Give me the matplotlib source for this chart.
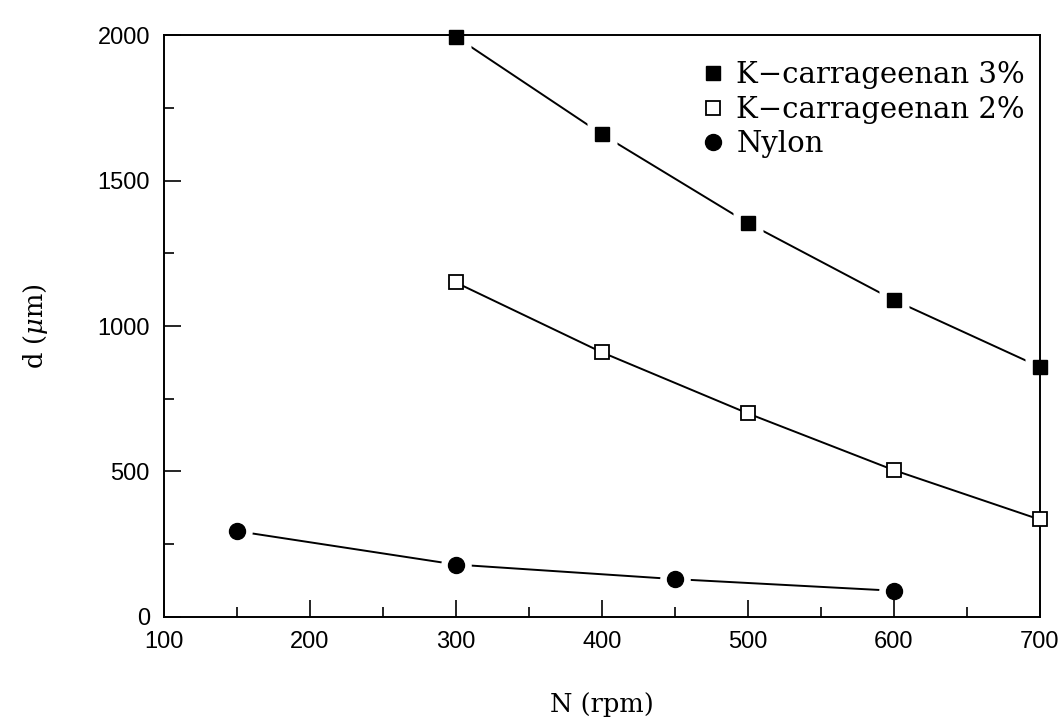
import matplotlib
matplotlib.use("Agg")
import matplotlib.pyplot as plt
from matplotlib.lines import Line2D
from matplotlib.ticker import MultipleLocator

# data
rpm_k3 = [300, 400, 500, 600, 700]
d_k3 = [1995, 1660, 1355, 1090, 860]

rpm_k2 = [300, 400, 500, 600, 700]
d_k2 = [1150, 910, 700, 505, 335]

rpm_nylon = [150, 300, 450, 600]
d_nylon = [295, 180, 130, 90]

labels = ["K\u2212carrageenan 3%", "K\u2212carrageenan 2%", "Nylon"]

plt.rcParams["mathtext.fontset"] = "dejavuserif"

fig = plt.figure(figsize=(10.64, 7.19), dpi=100)
ax = fig.add_axes([0.154, 0.142, 0.823, 0.809])

# K-carrageenan 3%: line with gaps round the markers
ax.plot(rpm_k3, d_k3, color="black", lw=1.4, zorder=1)
ax.plot(rpm_k3, d_k3, ls="none", marker="s", ms=22, mfc="white", mec="none",
        zorder=1.5, clip_on=False)
ax.plot(rpm_k3, d_k3, ls="none", marker="s", ms=10.5, mfc="black", mec="black",
        zorder=4, clip_on=False)

# K-carrageenan 2%: line touches the open squares
ax.plot(rpm_k2, d_k2, color="black", lw=1.4, zorder=1)
ax.plot(rpm_k2, d_k2, ls="none", marker="s", ms=10.5, mfc="white", mec="black",
        mew=1.3, zorder=4, clip_on=False)

# Nylon
ax.plot(rpm_nylon, d_nylon, color="black", lw=1.4, zorder=1)
ax.plot(rpm_nylon, d_nylon, ls="none", marker="o", ms=22, mfc="white", mec="none",
        zorder=1.5, clip_on=False)
ax.plot(rpm_nylon, d_nylon, ls="none", marker="o", ms=11.5, mfc="black", mec="black",
        zorder=4, clip_on=False)

ax.set_xlim(100, 700)
ax.set_ylim(0, 2000)
ax.xaxis.set_major_locator(MultipleLocator(100))
ax.xaxis.set_minor_locator(MultipleLocator(50))
ax.yaxis.set_major_locator(MultipleLocator(500))
ax.yaxis.set_minor_locator(MultipleLocator(250))
ax.tick_params(which="both", direction="in", top=False, right=False, width=1.2)
ax.tick_params(which="major", length=12, labelsize=17, pad=10)
ax.tick_params(which="minor", length=7)
for lab in ax.get_xticklabels() + ax.get_yticklabels():
    lab.set_fontfamily("Liberation Sans")
for sp in ax.spines.values():
    sp.set_linewidth(1.4)

ax.set_xlabel("N (rpm)", fontsize=18.5, family="DejaVu Serif", labelpad=28)
ax.set_ylabel(r"d ($\mu$m)", fontsize=18.5, family="DejaVu Serif", labelpad=34)

handles = [
    Line2D([], [], ls="none", marker="s", ms=10.5, mfc="black", mec="black"),
    Line2D([], [], ls="none", marker="s", ms=10.5, mfc="white", mec="black", mew=1.3),
    Line2D([], [], ls="none", marker="o", ms=11.5, mfc="black", mec="black"),
]
ax.legend(handles, labels, loc="upper right", bbox_to_anchor=(1.0, 0.98),
          frameon=False, prop={"family": "DejaVu Serif", "size": 21},
          handlelength=0.6, handletextpad=0.5, labelspacing=0.22, borderaxespad=0.1)

fig.savefig("out.png", dpi=100, facecolor="white")
